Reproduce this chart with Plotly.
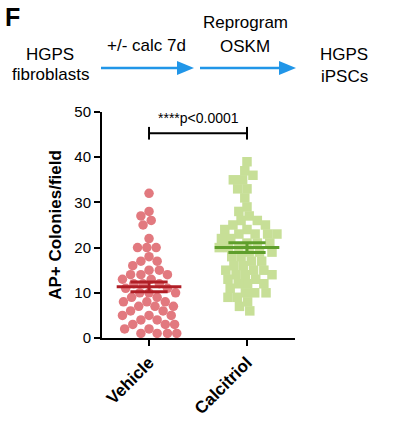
import numpy as np
import plotly.graph_objects as go

# ---------------- data ----------------
categories = ["Vehicle", "Calcitriol"]
vehicle = [32, 28, 27, 26, 25, 22, 20, 20, 20, 18, 17, 17, 16, 15, 15, 14, 14, 14,
           13, 13, 12, 12, 12, 11, 11, 10, 10, 10, 9, 9, 8, 8, 8, 7, 7, 7, 6, 6,
           5, 5, 5, 4, 4, 3, 3, 3, 2, 2, 1, 1, 1, 1]
calcitriol = [39, 37, 36, 35, 35, 33, 33, 31, 29, 28, 27, 26, 26, 25, 25, 24, 24,
              23, 23, 23, 23, 22, 22, 21, 21, 21, 20, 20, 20, 19, 19, 19, 18, 18,
              17, 17, 16, 16, 15, 15, 15, 14, 14, 14, 13, 13, 12, 12, 12, 11, 10,
              10, 10, 9, 9, 8, 7, 6]
y_ticks = [0, 10, 20, 30, 40, 50]
p_label = "****p<0.0001"

# ---------------- layout geometry ----------------
W, H = 397, 424
L, R, T, B = 102, 102, 112, 86
PW, PH = W - L - R, H - T - B
XMIN, XMAX = -0.48, 1.49
YMIN, YMAX = 0, 50
px_per_x = PW / (XMAX - XMIN)
px_per_y = PH / (YMAX - YMIN)

def px2paper(px, py):
    return (px - L) / PW, (H - B - py) / PH

def beeswarm(values, D=9.0):
    """classic beeswarm: each point takes the x closest to the centre that does not overlap"""
    vals = sorted(values, reverse=True)
    placed = []
    out = []
    for v in vals:
        yp = v * px_per_y
        intervals = []
        for (qx, qy) in placed:
            dy = abs(qy - yp)
            if dy < D:
                w = np.sqrt(D * D - dy * dy)
                intervals.append((qx - w, qx + w))
        cands = [0.0] + [a for a, b in intervals] + [b for a, b in intervals]
        cands = sorted(cands, key=lambda c: (abs(c), c))
        best = 0.0
        for c in cands:
            if all(not (a + 1e-6 < c < b - 1e-6) for a, b in intervals):
                best = c
                break
        placed.append((best, yp))
        out.append((best / px_per_x, v))
    return out

groups = [
    (vehicle, "circle", "#e2797f", "#b01e26", 9.3),
    (calcitriol, "square", "#c7df97", "#5f9f2c", 9.3),
]

fig = go.Figure()
shapes = []
for i, (vals, sym, col, lcol, dist) in enumerate(groups):
    pts = beeswarm(vals, D=dist)
    fig.add_trace(go.Scatter(
        x=[i + p[0] for p in pts], y=[p[1] for p in pts], mode="markers",
        marker=dict(symbol=sym, size=9.5, color=col, line=dict(width=0)),
        showlegend=False, cliponaxis=False, hoverinfo="y"))
    arr = np.array(vals, dtype=float)
    m = arr.mean()
    sem = arr.std(ddof=1) / np.sqrt(len(arr))
    mw, sw = 0.33, 0.19
    for (x0, x1, yv) in [(i - mw, i + mw, m), (i - sw, i + sw, m + sem), (i - sw, i + sw, m - sem)]:
        shapes.append(dict(type="line", xref="x", yref="y", x0=x0, x1=x1, y0=yv, y1=yv,
                           line=dict(color=lcol, width=3)))
    shapes.append(dict(type="line", xref="x", yref="y", x0=i, x1=i, y0=m - sem, y1=m + sem,
                       line=dict(color=lcol, width=3)))

# significance bracket
by = 45.3
shapes.append(dict(type="line", xref="x", yref="y", x0=0, x1=1, y0=by, y1=by,
                   line=dict(color="black", width=2)))
for xv in [0, 1]:
    shapes.append(dict(type="line", xref="x", yref="y", x0=xv, x1=xv, y0=by - 1.4, y1=by + 1.4,
                       line=dict(color="black", width=2)))

# header arrows
arrow_col = "#2196e8"
for (xa, xb) in [(101, 194), (200, 296)]:
    y0 = 68
    x0p, y0p = px2paper(xa, y0)
    x1p, _ = px2paper(xb - 14, y0)
    shapes.append(dict(type="line", xref="paper", yref="paper", x0=x0p, x1=x1p, y0=y0p, y1=y0p,
                       line=dict(color=arrow_col, width=2.5)))
    a = px2paper(xb - 17, y0 - 7)
    b = px2paper(xb, y0)
    c = px2paper(xb - 17, y0 + 7)
    shapes.append(dict(type="path", xref="paper", yref="paper",
                       path=f"M {a[0]},{a[1]} L {b[0]},{b[1]} L {c[0]},{c[1]} Z",
                       fillcolor=arrow_col, line=dict(color=arrow_col, width=0)))

font = "Liberation Sans, Arial, sans-serif"
annotations = []
def txt(t, px, py, size, bold=False, xanchor="center"):
    xp, yp = px2paper(px, py)
    annotations.append(dict(text=f"<b>{t}</b>" if bold else t, x=xp, y=yp, xref="paper", yref="paper",
                            showarrow=False, xanchor=xanchor, yanchor="middle",
                            font=dict(family=font, size=size, color="black")))

txt("F", 3, 17, 25, bold=True, xanchor="left")
txt("HGPS", 50, 54, 17)
txt("fibroblasts", 50, 74, 17)
txt("+/- calc 7d", 146, 45, 17)
txt("Reprogram", 245, 23, 17)
txt("OSKM", 245, 46, 17)
txt("HGPS", 344, 55, 17)
txt("iPSCs", 344, 76, 17)
annotations.append(dict(text=p_label, x=0.5, y=48.7, xref="x", yref="y", showarrow=False,
                        font=dict(family=font, size=14, color="black"), yanchor="middle"))

fig.update_layout(
    width=W, height=H, margin=dict(l=L, r=R, t=T, b=B, autoexpand=False),
    paper_bgcolor="white", plot_bgcolor="white",
    shapes=shapes, annotations=annotations,
    font=dict(family=font, color="black"),
    xaxis=dict(range=[XMIN, XMAX], tickvals=[0, 1], ticktext=[f"<b>{c}</b>" for c in categories],
               tickangle=-45, ticks="outside", ticklen=6, tickwidth=2, tickcolor="black",
               showline=True, linecolor="black", linewidth=2, showgrid=False, zeroline=False,
               automargin=False, tickfont=dict(size=17, family=font, color="black")),
    yaxis=dict(range=[YMIN, YMAX], tickvals=y_ticks, ticks="outside", ticklen=6, tickwidth=2,
               tickcolor="black", showline=True, linecolor="black", linewidth=2, showgrid=False,
               zeroline=False, automargin=False, tickfont=dict(size=15, family=font, color="black"),
               title=dict(text="<b>AP+ Colonies/field</b>", font=dict(size=17, family=font), standoff=8)),
)
fig.write_html("out.html", config={"displayModeBar": False, "staticPlot": True},
               post_script="document.body.style.margin='0px';document.body.style.overflow='hidden';")
